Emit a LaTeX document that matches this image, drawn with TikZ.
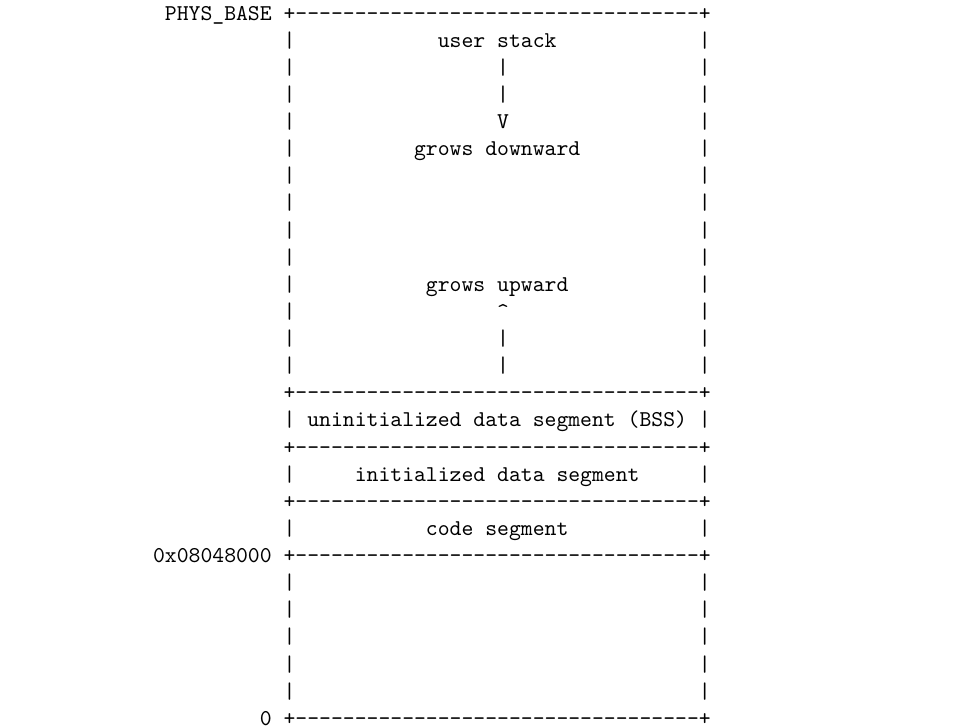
\documentclass[tikz,border=0pt]{standalone}
\newcommand\hy{-\kern0pt}
\newcommand\hyten{\hy\hy\hy\hy\hy\hy\hy\hy\hy\hy}
\newcommand\boxrule{+\hyten\hyten\hyten\hy\hy\hy\hy+}
\begin{document}
\begin{tikzpicture}[x=5.25pt,y=-12pt,
  txt/.style={anchor=base west,inner sep=0pt,outer sep=0pt,font=\ttfamily}]
\fill[white] (-10.9,-0.74) rectangle (71.1,26.1);
\useasboundingbox (-10.9,-0.74) rectangle (71.1,26.1);
% address labels
\node[txt] (physbase) at (3,0) {PHYS\_BASE};
\node[txt] (codeaddr) at (2,20) {0x08048000};
\node[txt] (zero) at (11,26) {0};
% horizontal borders
\foreach \r in {0,14,16,18,20,26}
  \node[txt] (rule\r) at (13,\r) {\boxrule};
% vertical borders
\foreach \r in {1,...,13,15,17,19,21,22,23,24,25} {
  \node[txt] (lb\r) at (13,\r) {|};
  \node[txt] (rb\r) at (48,\r) {|};
}
% stack region
\node[txt] (ustack) at (26,1) {user stack};
\node[txt] (dbar1) at (31,2) {|};
\node[txt] (dbar2) at (31,3) {|};
\node[txt] (darrow) at (31,4) {V};
\node[txt] (down) at (24,5) {grows downward};
\node[txt] (up) at (25,10) {grows upward};
\node[txt] (uarrow) at (31,11) {\textasciicircum};
\node[txt] (ubar1) at (31,12) {|};
\node[txt] (ubar2) at (31,13) {|};
% segments
\node[txt] (bss) at (15,15) {uninitialized data segment (BSS)};
\node[txt] (idata) at (19,17) {initialized data segment};
\node[txt] (code) at (25,19) {code segment};
\end{tikzpicture}
\end{document}
